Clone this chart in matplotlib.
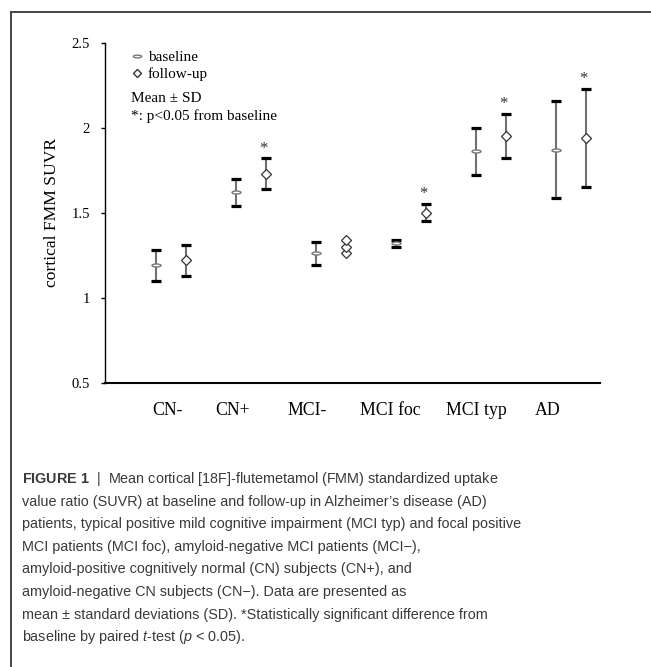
import matplotlib
matplotlib.use("Agg")
import matplotlib.pyplot as plt
from matplotlib.path import Path
from matplotlib.lines import Line2D
import numpy as np

plt.rcParams["mathtext.fontset"] = "custom"
plt.rcParams["mathtext.rm"] = "Liberation Sans"
plt.rcParams["mathtext.it"] = "Liberation Sans:italic"
plt.rcParams["mathtext.bf"] = "Liberation Sans:bold"

# data
groups = ["CN-", "CN+", "MCI-", "MCI foc", "MCI typ", "AD"]
base_mean = [1.19, 1.62, 1.26, 1.32, 1.86, 1.87]
base_sd = [0.09, 0.08, 0.07, 0.02, 0.14, 0.285]
fu_mean = [1.22, 1.73, 1.30, 1.50, 1.95, 1.94]
fu_sd = [0.09, 0.09, 0.04, 0.05, 0.13, 0.29]
signif = [False, True, False, True, True, True]

caption = [
    r"$\bf{FIGURE\ 1}$  |  Mean cortical [18F]-flutemetamol (FMM) standardized uptake",
    "value ratio (SUVR) at baseline and follow-up in Alzheimer\u2019s disease (AD)",
    "patients, typical positive mild cognitive impairment (MCI typ) and focal positive",
    "MCI patients (MCI foc), amyloid-negative MCI patients (MCI\u2212),",
    "amyloid-positive cognitively normal (CN) subjects (CN+), and",
    "amyloid-negative CN subjects (CN\u2212). Data are presented as",
    "mean \u00b1 standard deviations (SD). *Statistically significant difference from",
    r"baseline by paired $\it{t}$-test ($\it{p}$ < 0.05).",
]

x = np.arange(1, len(groups) + 1)
x_fu = x + 0.375
label_x = [1.14, 1.96, 2.89, 3.93, 5.01, 5.90]

# flat oval marker for baseline
t = np.linspace(0, 2 * np.pi, 40)
oval = Path(np.column_stack([np.cos(t), 0.33 * np.sin(t)]), closed=True)

fig = plt.figure(figsize=(6.51, 6.67), dpi=100)
ax = fig.add_axes([105 / 651, 1 - 382.7 / 667, 495 / 651, 340 / 667])

serif = "Liberation Serif"
bar_kw = dict(fmt="none", ecolor="#707070", elinewidth=1.5, capsize=0)
cap_kw = dict(fmt="none", ecolor="black", elinewidth=0, capsize=3.4, capthick=2.3)

ax.errorbar(x, base_mean, yerr=base_sd, **bar_kw)
ax.errorbar(x, base_mean, yerr=base_sd, **cap_kw)
ax.plot(x, base_mean, ls="none", marker=oval, ms=6.5, mfc="white",
        mec="#777777", mew=1.0)

# MCI- follow-up drawn as stacked diamonds, others as error bars
for i in range(len(groups)):
    if groups[i] == "MCI-":
        ax.plot([x_fu[i]] * 3,
                [fu_mean[i] - fu_sd[i], fu_mean[i], fu_mean[i] + fu_sd[i]],
                ls="none", marker="D", ms=5, mfc="white", mec="#333333",
                mew=0.9)
    else:
        ax.errorbar(x_fu[i], fu_mean[i], yerr=fu_sd[i], **bar_kw)
        ax.errorbar(x_fu[i], fu_mean[i], yerr=fu_sd[i], **cap_kw)
        ax.plot(x_fu[i], fu_mean[i], ls="none", marker="D", ms=5,
                mfc="white", mec="#333333", mew=0.9)
    if signif[i]:
        ax.annotate("*", (x_fu[i] - 0.03, fu_mean[i] + fu_sd[i]),
                    xytext=(0, 7), textcoords="offset points", ha="center",
                    va="center", fontsize=12, family=serif, color="#333333")

ax.set_xlim(0.3625, 6.55)
ax.set_ylim(0.5, 2.5)
ax.set_yticks([0.5, 1, 1.5, 2, 2.5])
ax.set_yticklabels(["0.5", "1", "1.5", "2", "2.5"], family=serif, fontsize=10.5)
ax.set_xticks(label_x)
ax.set_xticklabels(groups, family=serif, fontsize=12.8)
ax.tick_params(axis="x", length=0, pad=14)
ax.tick_params(axis="y", length=3, width=1, pad=8)
ax.spines["top"].set_visible(False)
ax.spines["right"].set_visible(False)
ax.spines["left"].set_linewidth(1.0)
ax.spines["bottom"].set_linewidth(1.5)
ax.set_ylabel("cortical FMM SUVR", family=serif, fontsize=12.6, labelpad=8)

handles = [
    Line2D([], [], ls="none", marker=oval, ms=6, mfc="white", mec="#777777"),
    Line2D([], [], ls="none", marker="D", ms=4.5, mfc="white", mec="#333333"),
]
ax.legend(handles, ["baseline", "follow-up"], loc="upper left",
          bbox_to_anchor=(0.04, 0.995), frameon=False, handlelength=0.8,
          handletextpad=0.3, labelspacing=0.2, borderaxespad=0,
          prop={"family": serif, "size": 11})
lx = (131 - 105) / 495
ax.text(lx, 1 - (98 - 42.7) / 340, "Mean \u00b1 SD",
        transform=ax.transAxes, family=serif, fontsize=11, va="center")
ax.text(lx, 1 - (116 - 42.7) / 340, "*: p<0.05 from baseline",
        transform=ax.transAxes, family=serif, fontsize=11, va="center")

# caption
for k, line in enumerate(caption):
    fig.text(22 / 651, 1 - (479 + 22.6 * k) / 667, line, family="Liberation Sans",
             fontsize=10.35, color="#3a3a3a", va="center", ha="left")

# page frame
fig.add_artist(Line2D([11 / 651, 1], [1 - 12 / 667] * 2, color="#444444", lw=1.4))
fig.add_artist(Line2D([11 / 651] * 2, [0, 1 - 12 / 667], color="#444444", lw=1.4))

fig.savefig("out.png", dpi=100)
